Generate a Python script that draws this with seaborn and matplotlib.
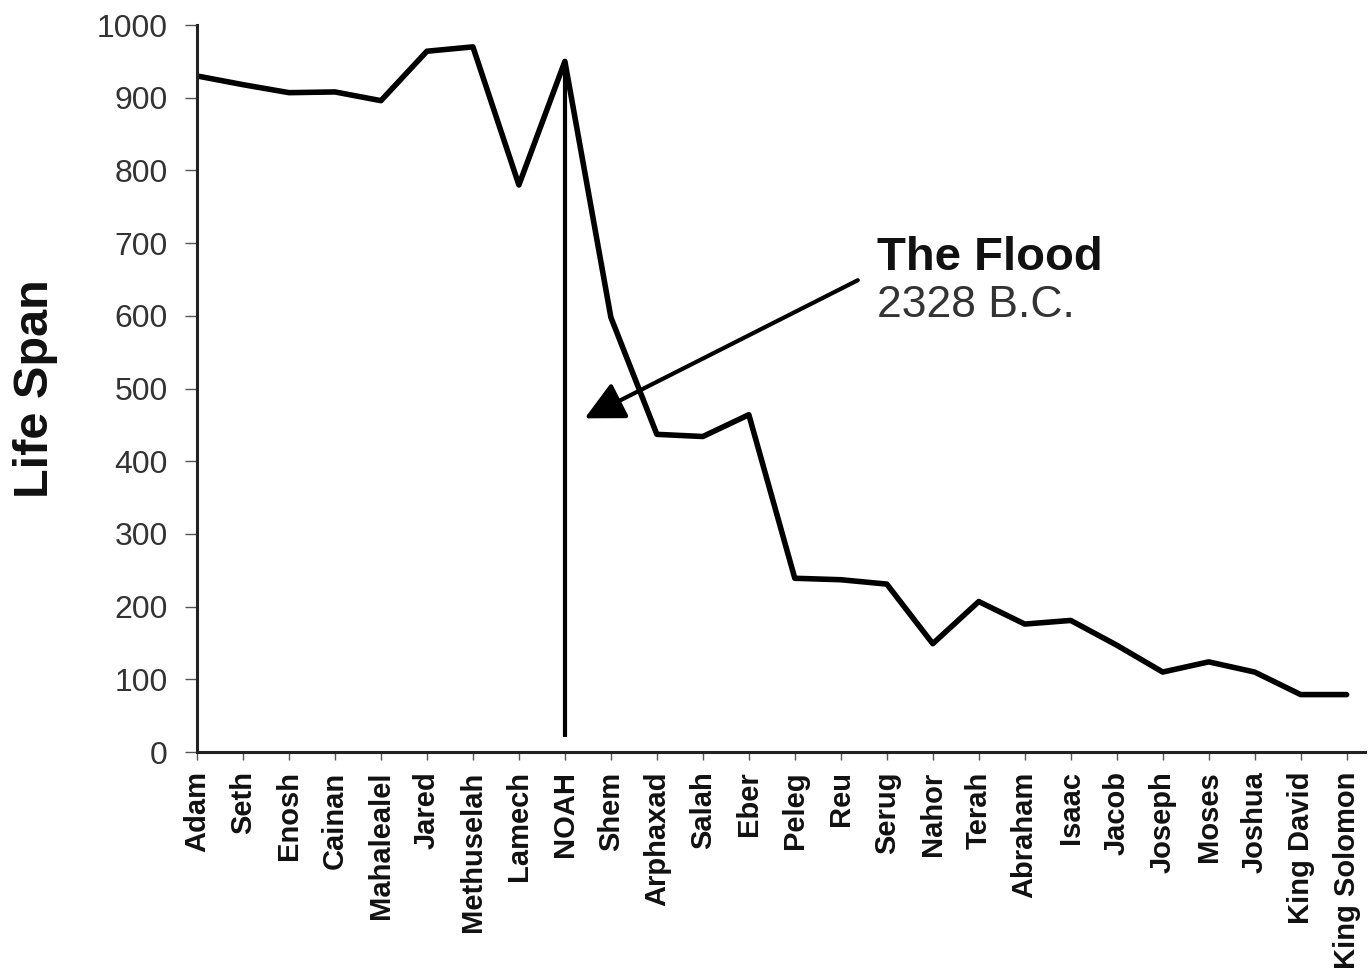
import pandas as pd
import matplotlib
matplotlib.use("Agg")
import matplotlib.pyplot as plt
import seaborn as sns

# patriarchs in order, with life span in years
names = [
    "Adam", "Seth", "Enosh", "Cainan", "Mahalealel", "Jared", "Methuselah",
    "Lamech", "NOAH", "Shem", "Arphaxad", "Salah", "Eber", "Peleg", "Reu",
    "Serug", "Nahor", "Terah", "Abraham", "Isaac", "Jacob", "Joseph",
    "Moses", "Joshua", "King David", "King Solomon",
]
life_span = [
    930, 918, 907, 908, 896, 964, 970,
    780, 950, 598, 437, 434, 464, 239, 237,
    231, 149, 207, 176, 181, 147, 110,
    124, 110, 79, 79,
]
y_ticks = list(range(0, 1001, 100))

flood_title = "The Flood"
flood_date = "2328 B.C."

df = pd.DataFrame({"name": names, "life_span": life_span})

sns.set_theme(style="ticks")
plt.rcParams["font.family"] = ["Liberation Sans", "DejaVu Sans"]

fig = plt.figure(figsize=(13.69, 9.75), dpi=100)
ax = fig.add_axes([0.1439, 0.2287, 0.8532, 0.7456])

sns.lineplot(data=df, x="name", y="life_span", color="black", linewidth=4,
             sort=False, ax=ax)

# vertical marker at Noah
noah = names.index("NOAH")
ax.vlines(noah, 20, life_span[noah], color="black", linewidth=3)

# arrow + label for the flood
ax.annotate("", xy=(8.43, 459), xytext=(14.37, 649),
            arrowprops=dict(arrowstyle="-|>", color="black", lw=3,
                            mutation_scale=60, shrinkA=0, shrinkB=0))
ax.text(14.78, 663, flood_title, fontsize=34, fontweight="bold",
        color="#111111", va="baseline")
ax.text(14.78, 598, flood_date, fontsize=32, color="#333333", va="baseline")

ax.set_xlim(0, 25.4)
ax.set_ylim(0, 1000)
ax.set_yticks(y_ticks)
ax.set_xticks(range(len(names)))
ax.set_xticklabels(names, rotation=90, fontsize=21, fontweight="bold",
                   color="#111111")
ax.tick_params(axis="y", labelsize=23, labelcolor="#333333", length=9,
               width=1, pad=12, color="#555555")
ax.tick_params(axis="x", length=6, width=1, pad=8, color="#555555")

ax.set_xlabel("")
ax.set_ylabel("Life Span", fontsize=35, fontweight="bold", color="#111111")
ax.yaxis.set_label_coords(-0.119, 0.5)

sns.despine(ax=ax)
for side in ["left", "bottom"]:
    ax.spines[side].set_linewidth(2.2)
    ax.spines[side].set_color("#222222")

fig.savefig("out.png", dpi=100, facecolor="white")
